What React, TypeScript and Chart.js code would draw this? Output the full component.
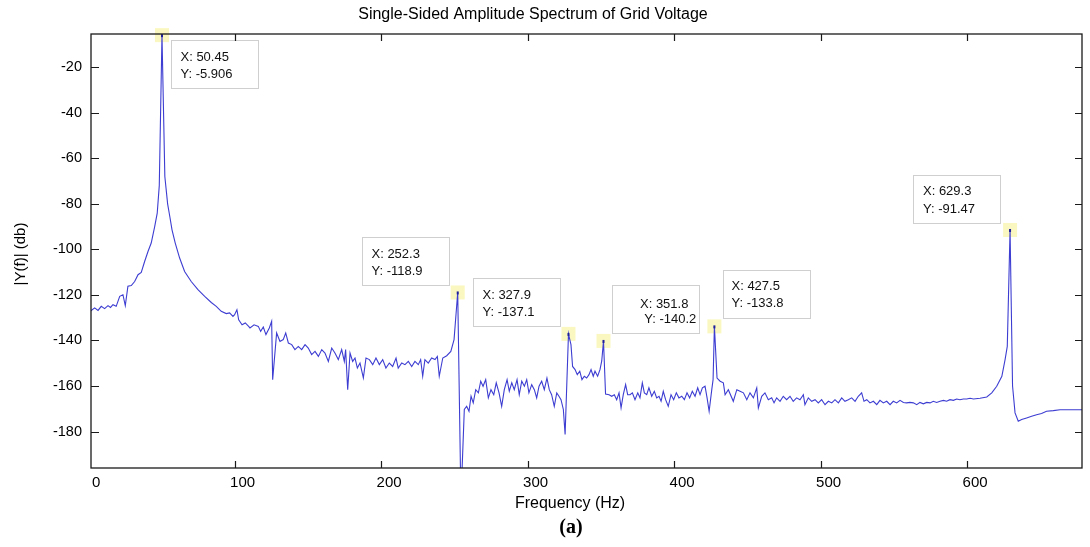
import React, { useEffect, useRef } from 'react';
import { Chart, registerables } from 'chart.js';

Chart.register(...registerables);

// ---------- data ----------
const freqHz: number[] = [
  0, 2.2, 4.5, 6.8, 9.0, 11.3, 13.6, 15.3, 17.0, 19.2, 21.6, 23.8, 25.4, 27.2, 29.5, 31.8, 34.1, 36.3, 38.6, 40.9,
  43.1, 45.5, 47.2, 48.6, 50.45, 52.4, 54.3, 55.9, 57.3, 59.5, 62.5, 65.9, 70.4, 75.0, 79.6, 84.1, 87.5, 90.9, 94.3, 96.6,
  98.9, 100.0, 101.6, 102.8, 105.1, 107.3, 109.6, 110.5,
  113.3, 116.2, 117.8, 119.6, 121.4, 123.7, 125.3, 126.0, 128.7, 131.0, 133.2, 134.9, 136.7, 139.0, 141.2, 143.5, 145.8, 148.1,
  150.3, 152.6, 154.9, 157.2, 159.5, 161.7, 164.0, 166.3, 168.5, 170.8, 173.1, 174.9, 175.8, 177.2, 178.8, 180.6, 182.2, 183.8,
  185.6, 187.9, 189.7, 192.0, 194.3, 196.5, 198.8, 201.1, 203.3, 205.6, 207.9, 210.2, 211.7, 214.1, 216.3, 218.6, 220.9, 223.1,
  225.4, 227.0, 228.4, 229.9, 232.2, 234.5, 236.8, 238.4, 239.7, 242.1, 244.8, 247.6, 249.8, 252.3, 254.5,
  256.8, 258.4, 260.0, 261.4, 262.9, 264.6, 266.4, 268.0, 269.6, 271.4, 273.2, 275.0, 276.9, 278.6, 280.5, 282.3, 284.1, 286.0,
  287.5, 289.2, 290.9, 292.8, 294.3, 296.0, 297.8, 299.4, 300.9, 302.8, 304.6, 306.2, 307.8, 309.6, 311.4, 313.2, 314.8, 316.4,
  318.2, 319.9, 321.4, 322.8, 324.4, 325.6, 327.9, 329.6, 330.7, 332.4, 333.9, 335.6, 337.1, 338.7, 340.3, 341.9, 343.3, 344.8,
  346.0, 347.8, 349.4, 350.6, 351.8, 353.2, 355.6, 357.4, 359.2, 360.8, 362.4, 363.8, 365.3, 366.9, 368.3, 369.9, 371.5, 373.3,
  375.2, 376.7, 378.3, 379.7, 381.3, 382.8, 384.7, 386.5, 388.1, 389.7, 391.1, 392.6, 394.2, 396.0, 397.9, 399.7, 401.5, 403.3,
  405.2, 407.0, 408.8, 410.6, 412.4, 414.3, 416.1, 417.7, 419.3, 421.1, 422.5, 423.9, 425.7, 426.6, 427.5, 429.3, 431.4, 433.6,
  434.8, 437.0, 440.4, 442.8, 445.0, 447.3, 449.6, 451.8, 454.1, 456.4, 457.5, 459.8, 462.0, 464.3, 466.6, 468.2, 470.0, 472.3,
  474.5, 476.8, 479.1, 481.3, 483.6, 485.9, 488.2, 489.3, 491.6, 493.9, 496.2, 498.4, 500.7, 503.0, 505.3, 507.6, 509.8, 512.1,
  514.4, 516.6, 518.9, 521.2, 523.5, 525.7, 528.0, 529.6, 531.5, 533.7, 536.0, 538.3, 540.5, 542.8, 545.1, 547.4, 549.6, 551.9,
  554.2, 556.5, 558.7, 561.0, 563.3, 565.6, 567.8, 570.1, 572.4, 574.7, 576.9, 579.2, 581.5, 583.8, 586.0, 588.3, 590.6, 592.9,
  595.1, 597.4, 599.7, 602.0, 604.3, 608.8, 613.4, 616.8, 620.2, 623.7, 625.9, 627.4, 629.3, 631.0, 632.7, 634.9, 637.2, 640.6,
  644.0, 647.4, 650.8, 654.2, 658.8, 663.4, 667.9, 672.5, 679.3,
];

const ampDb: number[] = [
  -127.5, -126.8, -125.7, -126.8, -125.0, -126.0, -124.7, -125.5, -124.3, -125.0, -120.6, -119.9, -124.7, -116.2, -115.9, -114.1, -111.1, -110.1, -105.3, -100.9,
  -97.2, -89.9, -84.1, -72.0, -5.906, -68.0, -80.0, -86.0, -91.4, -97.2, -103.8, -109.7, -114.1, -117.7, -120.6, -123.3, -125.0, -127.2, -128.2, -127.9,
  -129.4, -128.7, -126.5, -130.9, -133.1, -132.3, -133.8, -134.5,
  -133.1, -133.8, -136.0, -134.1, -137.4, -134.5, -131.6, -157.2, -136.7, -140.4, -139.6, -136.7, -141.1, -141.8, -144.0, -142.6, -144.0, -141.8,
  -143.3, -146.2, -144.8, -147.0, -144.0, -145.5, -149.2, -143.3, -145.5, -148.4, -144.0, -149.2, -144.0, -161.6, -145.5, -149.2, -147.7, -152.1,
  -149.9, -156.4, -147.7, -148.4, -150.6, -147.7, -150.6, -148.4, -152.1, -149.9, -151.4, -147.7, -152.1, -149.9, -150.6, -149.2, -151.4, -149.2,
  -150.6, -148.4, -155.7, -148.4, -149.9, -147.7, -148.4, -147.0, -155.7, -147.7, -146.7, -144.8, -139.6, -118.9, -210.0,
  -170.3, -168.9, -171.1, -164.5, -167.4, -161.6, -163.0, -157.9, -160.1, -157.2, -165.2, -161.6, -163.8, -158.6, -163.0, -168.9, -161.6, -157.2,
  -162.3, -158.6, -161.6, -157.2, -163.8, -157.9, -160.1, -157.2, -163.0, -159.4, -161.6, -165.2, -160.1, -157.9, -161.6, -156.5, -161.6, -163.8,
  -168.9, -163.0, -164.5, -166.0, -170.3, -181.3, -137.1, -141.8, -151.4, -152.8, -155.0, -153.5, -157.2, -155.7, -156.5, -155.0, -152.8, -155.7,
  -153.5, -155.7, -152.8, -149.0, -140.2, -163.5, -163.8, -164.5, -163.8, -166.0, -163.0, -169.6, -163.8, -159.4, -163.8, -163.8, -163.0, -166.0,
  -163.0, -165.2, -158.6, -163.0, -163.8, -160.8, -164.5, -162.3, -165.2, -164.5, -166.7, -162.3, -166.0, -168.9, -163.8, -166.0, -163.0, -165.2,
  -164.5, -166.0, -163.0, -165.2, -162.3, -164.5, -160.8, -163.8, -160.8, -160.1, -165.2, -171.1, -161.6, -157.2, -133.8, -156.5, -157.9, -158.6,
  -163.8, -161.6, -166.7, -161.6, -162.3, -163.0, -166.0, -163.0, -165.2, -160.8, -169.6, -164.5, -163.0, -166.0, -165.2, -167.4, -165.2, -166.7,
  -164.5, -166.0, -164.5, -166.7, -165.2, -166.0, -163.8, -168.2, -165.2, -166.7, -166.0, -167.4, -166.0, -168.2, -166.7, -167.4, -166.0, -167.4,
  -165.2, -166.7, -166.0, -165.2, -166.7, -164.5, -163.0, -166.7, -166.0, -167.4, -166.7, -168.2, -166.3, -167.4, -166.7, -168.2, -166.7, -167.4,
  -166.3, -167.2, -167.4, -167.2, -167.4, -168.2, -167.2, -167.8, -167.2, -167.4, -166.7, -167.2, -166.7, -166.3, -166.7, -166.0, -166.3, -165.7,
  -166.0, -165.7, -165.7, -165.4, -165.7, -165.4, -164.8, -163.0, -160.1, -155.7, -148.4, -142.6, -91.47, -160.0, -171.8, -175.5, -174.7, -174.0,
  -173.3, -172.6, -172.1, -171.1, -170.8, -170.4, -170.4, -170.4, -170.4,
];

const xTickValues: number[] = [0, 100, 200, 300, 400, 500, 600];

// data tips (values shown in the MATLAB data cursors)
const tipX: number[] = [50.45, 252.3, 327.9, 351.8, 427.5, 629.3];
const tipY: number[] = [-5.906, -118.9, -137.1, -140.2, -133.8, -91.47];

const titleText = 'Single-Sided Amplitude Spectrum of Grid Voltage';
const xTitleText = 'Frequency (Hz)';
const yTitleText = '|Y(f)| (db)';
const captionText = '(a)';

// ---------- layout / style (kept apart from data) ----------
const W = 1090;
const H = 547;
const SANS = '"Liberation Sans", Arial, Helvetica, sans-serif';
const SERIF = '"Liberation Serif", "Times New Roman", serif';
const LINE_COLOR = '#3d3dd2';

const tipLayout = [
  { dx: 8.7, dy: 4.8, tx: [9, 9], ty: [16.5, 34] },
  { dx: -96, dy: -55.4, tx: [9, 9], ty: [16.5, 34] },
  { dx: -95.2, dy: -55.9, tx: [9, 9], ty: [16.5, 34] },
  { dx: 9, dy: -55.8, tx: [27.5, 31.8], ty: [18.5, 33.5] },
  { dx: 9, dy: -56, tx: [8, 8], ty: [15.5, 33] },
  { dx: -96.7, dy: -55.3, tx: [9.5, 9.5], ty: [15.5, 33.5] },
];
const TIP_W = 87;
const TIP_H = 48;

const textLayout = {
  title: { x: 533, y: 15, size: 16 },
  xTitle: { x: 570, y: 504, size: 16 },
  yTitle: { x: 21, y: 254, size: 15 },
  caption: { x: 571, y: 528, size: 20 },
};

const decorPlugin = {
  id: 'decor',
  beforeDatasetsDraw(chart: any) {
    const { ctx, scales } = chart;
    const x = scales.x;
    const y = scales.y;
    ctx.save();
    for (let i = 0; i < tipX.length; i++) {
      const px = x.getPixelForValue(tipX[i]);
      const py = y.getPixelForValue(tipY[i]);
      ctx.fillStyle = 'rgba(250, 247, 185, 0.9)';
      ctx.fillRect(px - 7, py - 7, 14, 14);
    }
    ctx.restore();
  },
  afterDatasetsDraw(chart: any) {
    const { ctx, scales, chartArea: a } = chart;
    const x = scales.x;
    const y = scales.y;
    ctx.save();
    for (let i = 0; i < tipX.length; i++) {
      const px = x.getPixelForValue(tipX[i]);
      const py = y.getPixelForValue(tipY[i]);
      ctx.fillStyle = '#1f1f9a';
      ctx.fillRect(px - 1, Math.max(py - 1, a.top), 2, 3);
    }
    ctx.font = `13px ${SANS}`;
    ctx.textAlign = 'left';
    ctx.textBaseline = 'middle';
    for (let i = 0; i < tipX.length; i++) {
      const px = x.getPixelForValue(tipX[i]);
      const py = y.getPixelForValue(tipY[i]);
      const L = tipLayout[i];
      const bx = Math.round(px + L.dx) + 0.5;
      const by = Math.round(py + L.dy) + 0.5;
      ctx.fillStyle = '#ffffff';
      ctx.fillRect(bx, by, TIP_W, TIP_H);
      ctx.strokeStyle = '#cfcfcf';
      ctx.lineWidth = 1;
      ctx.strokeRect(bx, by, TIP_W, TIP_H);
      ctx.fillStyle = '#111';
      ctx.fillText(`X: ${tipX[i]}`, bx + L.tx[0], by + L.ty[0]);
      ctx.fillText(`Y: ${tipY[i]}`, bx + L.tx[1], by + L.ty[1]);
    }
    ctx.restore();
  },
  afterDraw(chart: any) {
    const { ctx, scales, chartArea: a } = chart;
    const x = scales.x;
    const y = scales.y;
    ctx.save();
    ctx.strokeStyle = '#1a1a1a';
    ctx.lineWidth = 1.3;
    ctx.strokeRect(a.left, a.top, a.right - a.left, a.bottom - a.top);
    ctx.lineWidth = 1.2;
    ctx.beginPath();
    y.ticks.forEach((t: any) => {
      const py = Math.round(y.getPixelForValue(t.value)) + 0.5;
      ctx.moveTo(a.left, py);
      ctx.lineTo(a.left + 8, py);
      ctx.moveTo(a.right, py);
      ctx.lineTo(a.right - 7, py);
    });
    x.ticks.forEach((t: any) => {
      const px = Math.round(x.getPixelForValue(t.value)) + 0.5;
      if (px < a.left + 2) return;
      ctx.moveTo(px, a.bottom);
      ctx.lineTo(px, a.bottom - 7);
      ctx.moveTo(px, a.top);
      ctx.lineTo(px, a.top + 7);
    });
    ctx.stroke();

    ctx.fillStyle = '#000';
    ctx.textAlign = 'center';
    ctx.textBaseline = 'middle';
    ctx.font = `${textLayout.title.size}px ${SANS}`;
    ctx.fillText(titleText, textLayout.title.x, textLayout.title.y);
    ctx.font = `${textLayout.xTitle.size}px ${SANS}`;
    ctx.fillText(xTitleText, textLayout.xTitle.x, textLayout.xTitle.y);
    ctx.font = `bold ${textLayout.caption.size}px ${SERIF}`;
    ctx.fillText(captionText, textLayout.caption.x, textLayout.caption.y);
    ctx.save();
    ctx.translate(textLayout.yTitle.x, textLayout.yTitle.y);
    ctx.rotate(-Math.PI / 2);
    ctx.font = `${textLayout.yTitle.size}px ${SANS}`;
    ctx.fillText(yTitleText, 0, 0);
    ctx.restore();
    ctx.restore();
  },
};

export default function App() {
  const canvasRef = useRef<HTMLCanvasElement | null>(null);

  useEffect(() => {
    const canvas = canvasRef.current;
    if (!canvas) return;
    const points = freqHz.map((f, i) => ({ x: f, y: ampDb[i] }));
    const chart = new Chart(canvas, {
      type: 'line',
      data: {
        datasets: [
          {
            data: points,
            borderColor: LINE_COLOR,
            borderWidth: 1.1,
            pointRadius: 0,
            tension: 0,
            fill: false,
          },
        ],
      },
      options: {
        responsive: false,
        animation: false,
        devicePixelRatio: 1,
        layout: { padding: { top: 34, right: 8, left: 0, bottom: 0 } },
        plugins: {
          legend: { display: false },
          tooltip: { enabled: false },
          title: { display: false },
        },
        scales: {
          x: {
            type: 'linear',
            min: 2,
            max: 678.4,
            grid: { display: false },
            border: { display: false },
            afterBuildTicks: (s: any) => {
              s.ticks = xTickValues.map((v) => ({ value: v }));
            },
            afterFit: (s: any) => {
              s.height = 79;
            },
            ticks: {
              autoSkip: false,
              maxRotation: 0,
              labelOffset: 8,
              padding: -2,
              color: '#000',
              font: { family: SANS, size: 15 },
              callback: (v: any) => String(v),
            },
          },
          y: {
            type: 'linear',
            min: -196,
            max: -5.4,
            grid: { display: false },
            border: { display: false },
            afterFit: (s: any) => {
              s.width = 91;
            },
            ticks: {
              stepSize: 20,
              includeBounds: false,
              padding: 1,
              color: '#000',
              font: { family: SANS, size: 14.5 },
              callback: (v: any) => String(v),
            },
          },
        },
      },
      plugins: [decorPlugin],
    });
    return () => chart.destroy();
  }, []);

  return (
    <div style={{ position: 'fixed', left: 0, top: 0, width: W, height: H, background: '#fff' }}>
      <canvas ref={canvasRef} width={W} height={H} style={{ display: 'block', width: W, height: H }} />
    </div>
  );
}
